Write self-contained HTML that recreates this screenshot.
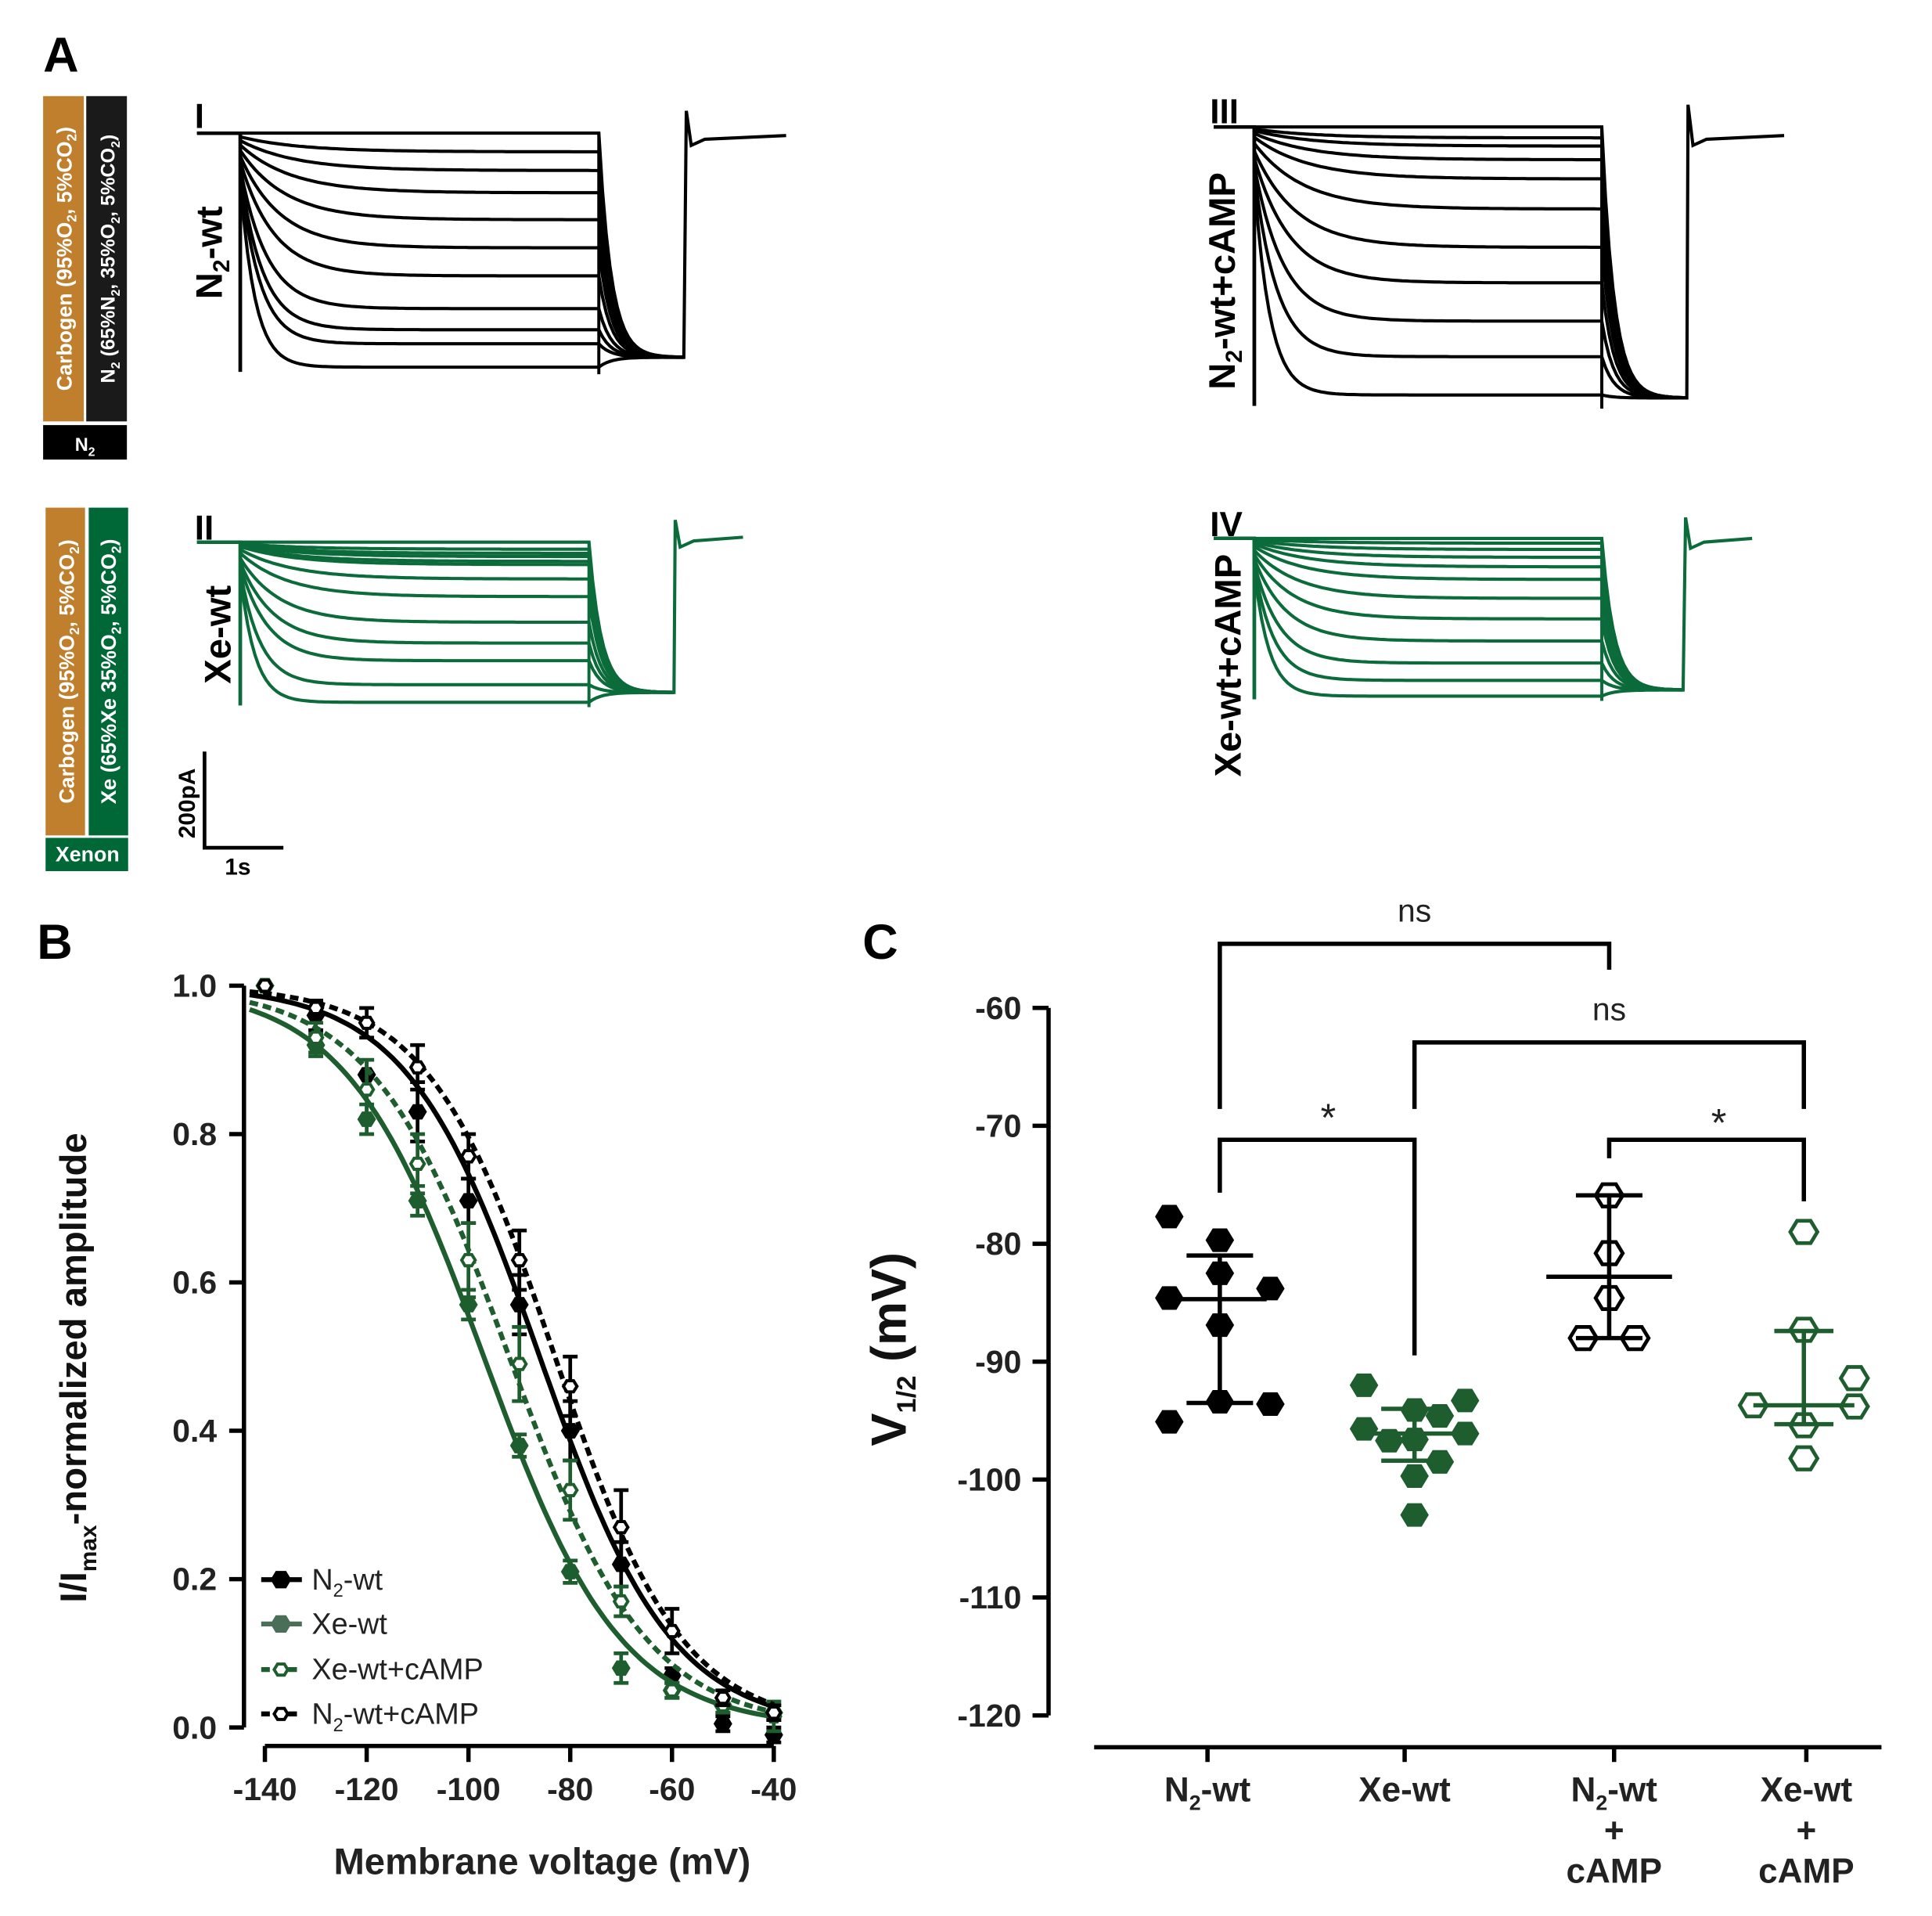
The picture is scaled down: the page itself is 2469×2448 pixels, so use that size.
<!DOCTYPE html>
<html><head><meta charset="utf-8"><style>
html,body{margin:0;padding:0;background:#fff}
svg{display:block}
text{font-family:"Liberation Sans",Arial,sans-serif}
</style></head><body>
<svg id="fig" xmlns="http://www.w3.org/2000/svg" width="2469" height="2448" viewBox="0 0 1568 1555" preserveAspectRatio="none">
<g>
<text x="35" y="58" font-size="40" font-weight="bold">A</text>
<rect x="35" y="78" width="33" height="264" fill="#C07F2D"/>
<rect x="70" y="78" width="33" height="264" fill="#1a1a1a"/>
<rect x="35" y="345" width="68" height="28" fill="#000"/>
<text x="69" y="366" font-size="15" font-weight="bold" fill="#fff" text-anchor="middle">N<tspan font-size="10" dy="4">2</tspan></text>
<text transform="translate(58,210) rotate(-90)" font-size="17" font-weight="bold" fill="#fff" text-anchor="middle">Carbogen (95%O<tspan font-size="11" dy="4">2</tspan><tspan dy="-4">, 5%CO</tspan><tspan font-size="11" dy="4">2</tspan><tspan dy="-4">)</tspan></text>
<text transform="translate(93,210) rotate(-90)" font-size="16" font-weight="bold" fill="#fff" text-anchor="middle">N<tspan font-size="10" dy="4">2</tspan><tspan dy="-4"> (65%N</tspan><tspan font-size="10" dy="4">2</tspan><tspan dy="-4">, 35%O</tspan><tspan font-size="10" dy="4">2</tspan><tspan dy="-4">, 5%CO</tspan><tspan font-size="10" dy="4">2</tspan><tspan dy="-4">)</tspan></text>
<rect x="37" y="412" width="32" height="266" fill="#C07F2D"/>
<rect x="72" y="412" width="32" height="266" fill="#006837"/>
<rect x="37" y="680" width="67" height="27" fill="#006837"/>
<text x="71" y="699" font-size="17" font-weight="bold" fill="#fff" text-anchor="middle">Xenon</text>
<text transform="translate(60,545) rotate(-90)" font-size="17" font-weight="bold" fill="#fff" text-anchor="middle">Carbogen (95%O<tspan font-size="11" dy="4">2</tspan><tspan dy="-4">, 5%CO</tspan><tspan font-size="11" dy="4">2</tspan><tspan dy="-4">)</tspan></text>
<text transform="translate(94,545) rotate(-90)" font-size="17" font-weight="bold" fill="#fff" text-anchor="middle">Xe (65%Xe 35%O<tspan font-size="11" dy="4">2</tspan><tspan dy="-4">, 5%CO</tspan><tspan font-size="11" dy="4">2</tspan><tspan dy="-4">)</tspan></text>
<text x="158" y="104" font-size="28" font-weight="bold">I</text>
<text x="158" y="438" font-size="28" font-weight="bold">II</text>
<text x="982" y="100" font-size="28" font-weight="bold">III</text>
<text x="982" y="435" font-size="28" font-weight="bold">IV</text>
<text transform="translate(180,205) rotate(-90)" font-size="30" font-weight="bold" text-anchor="middle">N<tspan font-size="19" dy="6">2</tspan><tspan dy="-6">-wt</tspan></text>
<text transform="translate(187,515) rotate(-90)" font-size="30" font-weight="bold" text-anchor="middle">Xe-wt</text>
<text transform="translate(1002,228) rotate(-90)" font-size="30" font-weight="bold" text-anchor="middle">N<tspan font-size="19" dy="6">2</tspan><tspan dy="-6">-wt+cAMP</tspan></text>
<text transform="translate(1007,540) rotate(-90)" font-size="30" font-weight="bold" text-anchor="middle">Xe-wt+cAMP</text>
<path d="M166,610 V688 H230" fill="none" stroke="#000" stroke-width="3"/>
<text transform="translate(158,652) rotate(-90)" font-size="19" font-weight="bold" text-anchor="middle">200pA</text>
<text x="193" y="710" font-size="19" font-weight="bold" text-anchor="middle">1s</text>
<g id="traces"></g>
</g>
<g>
<text x="30" y="778" font-size="40" font-weight="bold">B</text>
<g id="bplot"></g>
</g>
<g>
<text x="700" y="778" font-size="40" font-weight="bold">C</text>
<g id="cplot"></g>
</g>
</svg>
<script>
// ---- Panel A trace data (steady-state levels as fraction of max deflection) ----
const traceI = [0, 0.08, 0.16, 0.255, 0.37, 0.49, 0.61, 0.75, 0.84, 0.90, 1.0];
const traceII = [0, 0.044, 0.07, 0.09, 0.12, 0.14, 0.23, 0.34, 0.5, 0.63, 0.74, 0.89, 1.0];
const traceIII = [0, 0.04, 0.07, 0.12, 0.19, 0.3, 0.44, 0.57, 0.71, 0.84, 0.98];
const traceIV = [0, 0.03, 0.07, 0.12, 0.18, 0.26, 0.38, 0.51, 0.65, 0.79, 0.9, 1.0];
// ---- Panel B data ----
const voltages = [-140, -130, -120, -110, -100, -90, -80, -70, -60, -50, -40];
const n2wt = [1.0, 0.96, 0.88, 0.83, 0.71, 0.57, 0.40, 0.22, 0.07, 0.005, -0.01];
const n2wtErr = [0, 0.02, 0.02, 0.04, 0.03, 0.04, 0.04, 0.03, 0.01, 0.01, 0.01];
const xewt = [1.0, 0.92, 0.82, 0.71, 0.57, 0.38, 0.21, 0.08, 0.05, 0.03, 0.02];
const xewtErr = [0, 0.015, 0.02, 0.02, 0.02, 0.015, 0.015, 0.02, 0.01, 0.01, 0.01];
const xecamp = [1.0, 0.93, 0.86, 0.76, 0.63, 0.49, 0.32, 0.17, 0.05, 0.03, 0.015];
const xecampErr = [0, 0.02, 0.04, 0.04, 0.05, 0.05, 0.04, 0.02, 0.01, 0.01, 0.02];
const n2camp = [1.0, 0.97, 0.95, 0.89, 0.77, 0.63, 0.46, 0.27, 0.13, 0.04, 0.02];
const n2campErr = [0, 0.01, 0.02, 0.03, 0.03, 0.04, 0.04, 0.05, 0.03, 0.01, 0.01];
const fitVhalf = [-86, -97, -92, -83];
const fitSlope = [13, 13.5, 13.5, 12.5];
const bYTicks = [0, 0.2, 0.4, 0.6, 0.8, 1.0];
const bYTickLabels = ["0.0", "0.2", "0.4", "0.6", "0.8", "1.0"];
const bXTicks = [-140, -120, -100, -80, -60, -40];
// ---- Panel C data ----
const cCategories = ["N2-wt", "Xe-wt", "N2-wt+cAMP", "Xe-wt+cAMP"];
const cN2wt = [-77.7, -79.7, -82.5, -84.6, -83.8, -86.9, -93.4, -93.6, -95.1];
const cN2wtSlot = [-1, 0, 0, -1, 1, 0, 0, 1, -1];
const cXewt = [-92, -93.3, -94.1, -94.6, -95.7, -96.1, -96.7, -96.6, -98.5, -99.7, -103];
const cXewtSlot = [-1, 1, 0, 0.5, -1, 1, -0.5, 0, 0.5, 0, 0];
const cN2camp = [-75.9, -80.8, -84.6, -88, -88];
const cN2campSlot = [0, 0, 0, -0.5, 0.5];
const cXecamp = [-79, -87.3, -91.4, -93.7, -93.8, -95.4, -98.2];
const cXecampSlot = [0, 0, 1, -1, 1, 0, 0];
const cMean = [-84.7, -96.1, -82.8, -93.7];
const cSdHi = [-81, -94, -75.9, -87.4];
const cSdLo = [-93.5, -98.4, -88, -95.3];
const cYTicks = [-60, -70, -80, -90, -100, -110, -120];

const NS = "http://www.w3.org/2000/svg";
function mk(tag, attrs, parent) {
  const e = document.createElementNS(NS, tag);
  for (const k in attrs) e.setAttribute(k, attrs[k]);
  parent.appendChild(e);
  return e;
}

// ===== Panel A =====
const tg = document.getElementById('traces');
function drawTraces(levels, cfg, name) {
  const g = mk('g', {}, tg);
  
  
  const n = levels.length;
  levels.forEach((f, i) => {
    const lvl = cfg.base + f * cfg.depth;
    const tau = 12 + 40 * (1 - f);
    let d = `M${cfg.x0},${cfg.base} L${cfg.xs},${cfg.base}`;
    const start = cfg.base + (lvl - cfg.base) * 0.2;
    for (let x = cfg.xs; x <= cfg.xe; x += 3) {
      const t = x - cfg.xs;
      const y = lvl + (start - lvl) * Math.exp(-t / tau);
      d += ` L${x},${y.toFixed(1)}`;
    }
    const tail = cfg.tail;
    for (let x = cfg.xe; x <= cfg.xt; x += 3) {
      const t = x - cfg.xe;
      const y = tail + (lvl - tail) * Math.exp(-t / 10);
      d += ` L${x},${y.toFixed(1)}`;
    }
    if (i === n - 1) {
      d += ` L${cfg.xt},${cfg.spike} L${cfg.xt + 4},${cfg.post + 8} L${cfg.xt + 15},${cfg.post + 3} L${cfg.x1},${cfg.post}`;
    }
    const p = mk('path', {d: d, fill: 'none', stroke: cfg.color, 'stroke-width': 2.6}, g);
    
    
  });
  const sp = mk('path', {d: `M${cfg.xs},${cfg.base} V${cfg.base + cfg.depth * 1.02}`, stroke: cfg.color, 'stroke-width': 3, fill: 'none'}, g);
  
  
  const ep = mk('path', {d: `M${cfg.xe},${cfg.base} V${cfg.base + cfg.depth * 1.03}`, stroke: cfg.color, 'stroke-width': 2.5, fill: 'none'}, g);
  
  
}
drawTraces(traceI, {x0:160, xs:195, xe:486, xt:557, x1:638, base:108, depth:190, tail:290, spike:90, post:110, color:'#000'}, 'trace-i');
drawTraces(traceII, {x0:160, xs:195, xe:478, xt:548, x1:603, base:440, depth:130, tail:562, spike:422, post:436, color:'#0B6B3A'}, 'trace-ii');
drawTraces(traceIII, {x0:985, xs:1018, xe:1300, xt:1370, x1:1448, base:103, depth:222, tail:323, spike:85, post:110, color:'#000'}, 'trace-iii');
drawTraces(traceIV, {x0:985, xs:1018, xe:1300, xt:1368, x1:1422, base:437, depth:128, tail:560, spike:420, post:437, color:'#0B6B3A'}, 'trace-iv');

// ===== Panel B =====
const bg = document.getElementById('bplot');
const bx = v => 215 + (v + 140) * 4.13;
const by = v => 1402 - v * 602;
const GREEN = '#1E5E2E';
let ax = mk('path', {d: `M198,${by(1)} V${by(0)}`, stroke: '#000', 'stroke-width': 3.5, fill: 'none'}, bg);


bYTicks.forEach((t, i) => {
  const l = mk('line', {x1: 186, x2: 198, y1: by(t), y2: by(t), stroke: '#000', 'stroke-width': 3.5}, bg);
  
  
  const tx = mk('text', {x: 176, y: by(t) + 9, 'font-size': 26, 'font-weight': 'bold', 'text-anchor': 'end', fill: '#222'}, bg);
  tx.textContent = bYTickLabels[i];
  
  
});
let xa = mk('path', {d: `M${bx(-140)},1417 H${bx(-40)}`, stroke: '#000', 'stroke-width': 3.5, fill: 'none'}, bg);


bXTicks.forEach(t => {
  const l = mk('line', {x1: bx(t), x2: bx(t), y1: 1417, y2: 1430, stroke: '#000', 'stroke-width': 3.5}, bg);
  
  
  const tx = mk('text', {x: bx(t), y: 1461, 'font-size': 26, 'font-weight': 'bold', 'text-anchor': 'middle', fill: '#222'}, bg);
  tx.textContent = String(t);
  
  
});
let xt = mk('text', {x: 440, y: 1521, 'font-size': 30, 'font-weight': 'bold', 'text-anchor': 'middle', fill: '#222'}, bg);
xt.textContent = 'Membrane voltage (mV)';


let yt = mk('text', {transform: 'translate(70,1110) rotate(-90)', 'font-size': 30, 'font-weight': 'bold', 'text-anchor': 'middle', fill: '#111'}, bg);
yt.innerHTML = 'I/I<tspan font-size="19" dy="8">max</tspan><tspan dy="-8">-normalized amplitude</tspan>';



function hexPts(cx, cy, r) {
  let s = [];
  for (let k = 0; k < 6; k++) { const a = Math.PI / 3 * k; s.push((cx + r * Math.cos(a)).toFixed(1) + ',' + (cy + r * Math.sin(a) * 0.95).toFixed(1)); }
  return s.join(' ');
}
const bSeries = [
  {vals: n2wt, err: n2wtErr, color: '#000', open: false, dash: '', name: 'n2-wt'},
  {vals: xewt, err: xewtErr, color: GREEN, open: false, dash: '', name: 'xe-wt'},
  {vals: xecamp, err: xecampErr, color: GREEN, open: true, dash: '7,4', name: 'xe-wt-camp'},
  {vals: n2camp, err: n2campErr, color: '#000', open: true, dash: '7,4', name: 'n2-wt-camp'}
];
bSeries.forEach((s, si) => {
  let d = '';
  for (let v = -143; v <= -40; v += 1) {
    const f = 1 / (1 + Math.exp((v - fitVhalf[si]) / fitSlope[si]));
    d += (d ? ' L' : 'M') + bx(v).toFixed(1) + ',' + by(f).toFixed(1);
  }
  const c = mk('path', {d: d, fill: 'none', stroke: s.color, 'stroke-width': 4, 'stroke-dasharray': s.dash}, bg);
  
  
  s.vals.forEach((v, i) => {
    const X = bx(voltages[i]), e = s.err[i];
    if (e > 0) {
      const eb = mk('path', {d: `M${X},${by(v + e)} V${by(v - e)} M${X - 6},${by(v + e)} H${X + 6} M${X - 6},${by(v - e)} H${X + 6}`, stroke: s.color, 'stroke-width': 3, fill: 'none'}, bg);
      
      
    }
    const m = mk('polygon', {points: hexPts(X, by(v), s.open ? 5.5 : 7), fill: s.open ? '#fff' : s.color, stroke: s.color, 'stroke-width': s.open ? 2.5 : 1}, bg);
    
    
  });
  const ly = [1282, 1318, 1355, 1391][si];
  const ll = mk('line', {x1: 212, x2: 245, y1: ly, y2: ly, stroke: si === 1 ? '#4a6e58' : s.color, 'stroke-width': 4, 'stroke-dasharray': s.dash}, bg);
  
  
  const lm = mk('polygon', {points: hexPts(228, ly, s.open ? 5.5 : 7), fill: s.open ? '#fff' : (si === 1 ? '#4a6e58' : s.color), stroke: si === 1 ? '#4a6e58' : s.color, 'stroke-width': 2.5}, bg);
  
  
  const lt = mk('text', {x: 253, y: ly + 8, 'font-size': 24, fill: '#222'}, bg);
  lt.innerHTML = ['N<tspan font-size="15" dy="6">2</tspan><tspan dy="-6">-wt</tspan>', 'Xe-wt', 'Xe-wt+cAMP', 'N<tspan font-size="15" dy="6">2</tspan><tspan dy="-6">-wt+cAMP</tspan>'][si];
  
  
});

// ===== Panel C =====
const cg = document.getElementById('cplot');
const cy = v => 818 + (-60 - v) * 9.57;
const catX = [990, 1148, 1306, 1464];
const tickX = [980, 1140, 1310, 1466];
let cay = mk('path', {d: `M851,${cy(-60)} V${cy(-120)}`, stroke: '#000', 'stroke-width': 3.5, fill: 'none'}, cg);


cYTicks.forEach(t => {
  const l = mk('line', {x1: 838, x2: 851, y1: cy(t), y2: cy(t), stroke: '#000', 'stroke-width': 3.5}, cg);
  
  
  const tx = mk('text', {x: 829, y: cy(t) + 9, 'font-size': 26, 'font-weight': 'bold', 'text-anchor': 'end', fill: '#222'}, cg);
  tx.textContent = String(t);
  
  
});
let cyt = mk('text', {transform: 'translate(735,1095) rotate(-90)', 'font-size': 40, 'font-weight': 'bold', 'text-anchor': 'middle', fill: '#111'}, cg);
cyt.innerHTML = 'V<tspan font-size="22" dy="8">1/2</tspan><tspan dy="-8"> (mV)</tspan>';


let cax = mk('path', {d: 'M888,1418 H1527', stroke: '#000', 'stroke-width': 3.5, fill: 'none'}, cg);


const catLabels = [
  ['N<tspan font-size="17" dy="7">2</tspan><tspan dy="-7">-wt</tspan>'],
  ['Xe-wt'],
  ['N<tspan font-size="17" dy="7">2</tspan><tspan dy="-7">-wt</tspan>', '+', 'cAMP'],
  ['Xe-wt', '+', 'cAMP']
];
cCategories.forEach((c, i) => {
  const l = mk('line', {x1: tickX[i], x2: tickX[i], y1: 1418, y2: 1430, stroke: '#000', 'stroke-width': 3.5}, cg);
  
  
  catLabels[i].forEach((s, j) => {
    const tx = mk('text', {x: tickX[i], y: 1462 + j * 33, 'font-size': 28, 'font-weight': 'bold', 'text-anchor': 'middle', fill: '#222'}, cg);
    tx.innerHTML = s;
    
    
  });
});
const cGroups = [
  {vals: cN2wt, slot: cN2wtSlot, color: '#000', open: false, name: 'n2-wt', hw: 41},
  {vals: cXewt, slot: cXewtSlot, color: GREEN, open: false, name: 'xe-wt', hw: 41},
  {vals: cN2camp, slot: cN2campSlot, color: '#000', open: true, name: 'n2-wt-camp', hw: 42},
  {vals: cXecamp, slot: cXecampSlot, color: GREEN, open: true, name: 'xe-wt-camp', hw: 41}
];
cGroups.forEach((g, i) => {
  const X = catX[i];
  const mw = [38, 38, 51, 41][i], sw = [27, 27, 27, 24][i];
  const st = mk('path', {d: `M${X},${cy(cSdHi[i])} V${cy(cSdLo[i])} M${X - sw},${cy(cSdHi[i])} H${X + sw} M${X - sw},${cy(cSdLo[i])} H${X + sw} M${X - mw},${cy(cMean[i])} H${X + mw}`, stroke: g.color, 'stroke-width': 3.5, fill: 'none'}, cg);
  
  
  g.vals.forEach((v, k) => {
    const m = mk('polygon', {points: hexPts(X + g.slot[k] * g.hw, cy(v), 11), fill: g.open ? 'none' : g.color, stroke: g.color, 'stroke-width': g.open ? 3 : 1}, cg);
    
    
  });
});
const brackets = [
  {d: 'M990,900 V766 H1306 V787', label: 'ns', lx: 1148, ly: 748, fs: 26, name: 'bracket-ns-1'},
  {d: 'M1148,900 V846 H1464 V900', label: 'ns', lx: 1306, ly: 828, fs: 26, name: 'bracket-ns-2'},
  {d: 'M990,968 V925 H1148 V1100', label: '*', lx: 1078, ly: 918, fs: 32, name: 'bracket-star-1'},
  {d: 'M1306,940 V925 H1464 V975', label: '*', lx: 1395, ly: 922, fs: 32, name: 'bracket-star-2'}
];
brackets.forEach(b => {
  const p = mk('path', {d: b.d, stroke: '#000', 'stroke-width': 3.5, fill: 'none'}, cg);
  
  
  const t = mk('text', {x: b.lx, y: b.ly, 'font-size': b.fs, 'text-anchor': 'middle', fill: '#222'}, cg);
  t.textContent = b.label;
  
  
});
</script>
</body></html>
